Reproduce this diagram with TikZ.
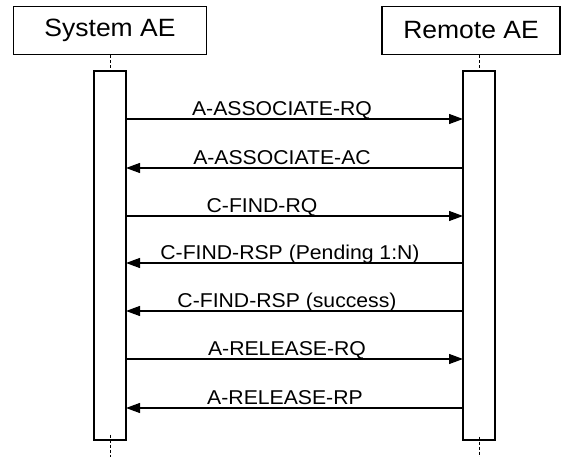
\documentclass[tikz,border=0pt]{standalone}
\usepackage{fontspec}
\setmainfont{Liberation Sans}[FakeStretch=1.06]
\usetikzlibrary{arrows.meta}
\begin{document}
\begin{tikzpicture}[x=1pt,y=-1pt,
  actor/.style={draw,line width=1.3pt,inner sep=0pt,font=\fontsize{25}{28}\selectfont},
  bar/.style={draw,line width=1.3pt,inner sep=0pt},
  msg/.style={line width=1.2pt,-{Triangle[length=14pt,width=10pt]}},
  lbl/.style={inner sep=0pt,anchor=base,font=\fontsize{20}{22}\selectfont},
  life/.style={line width=0.8pt,dash pattern=on 3pt off 2pt}]
\useasboundingbox (0,0) rectangle (566,457);
% actors
\node[actor,minimum width=193pt,minimum height=48pt] (sys) at (110,30.5) {System AE};
\node[actor,minimum width=178pt,minimum height=48pt] (rem) at (471,30.5) {Remote AE};
% activation bars
\node[bar,minimum width=32pt,minimum height=369pt] (sbar) at (110,255.5) {};
\node[bar,minimum width=32pt,minimum height=369pt] (rbar) at (479,255.5) {};
% lifelines
\coordinate (sbot) at (110,457);
\coordinate (rbot) at (479,457);
\draw[life] (sys.south) -- (sbar.north);
\draw[life] (rem.south -| rbar.north) -- (rbar.north);
\draw[life] ([yshift=6pt]sbar.south) -- (sbot);
\draw[life] ([yshift=4pt]rbar.south) -- (rbot);
% message anchor points
\foreach \n/\y in {1/119,2/168,3/216,4/263,5/311,6/359,7/408}{
  \coordinate (L\n) at (126,\y);
  \coordinate (R\n) at (463,\y);
}
\draw[msg] (L1) -- (R1);
\draw[msg] (R2) -- (L2);
\draw[msg] (L3) -- (R3);
\draw[msg] (R4) -- (L4);
\draw[msg] (R5) -- (L5);
\draw[msg] (L6) -- (R6);
\draw[msg] (R7) -- (L7);
% labels
\node[lbl] (t1) at (282,115.5) {A-ASSOCIATE-RQ};
\node[lbl] (t2) at (282,164.5) {A-ASSOCIATE-AC};
\node[lbl] (t3) at (262,212.5) {C-FIND-RQ};
\node[lbl] (t4) at (290,259.5) {C-FIND-RSP (Pending 1:N)};
\node[lbl] (t5) at (287,307.5) {C-FIND-RSP (success)};
\node[lbl] (t6) at (287,355.5) {A-RELEASE-RQ};
\node[lbl] (t7) at (285,404.5) {A-RELEASE-RP};
\end{tikzpicture}
\end{document}
